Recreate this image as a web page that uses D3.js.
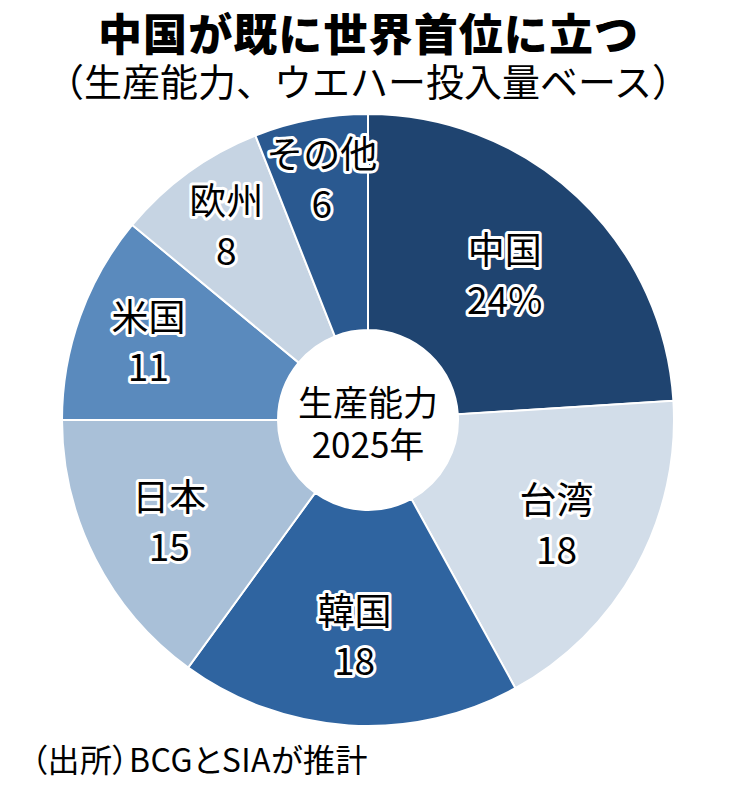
<!DOCTYPE html>
<html lang="ja">
<head>
<meta charset="utf-8">
<script src="https://cdn.jsdelivr.net/npm/d3@7"></script>
<style>
  body { margin: 0; background: #fff; }
  svg { display: block; font-family: "Noto Sans CJK JP", "Noto Sans", sans-serif; }
  .palt { font-feature-settings: "palt"; }
</style>
</head>
<body>
<svg id="chart" width="736" height="787"></svg>
<script>
// données du graphique
const regions = ["中国", "台湾", "韓国", "日本", "米国", "欧州", "その他"];
const shares = [24, 18, 18, 15, 11, 8, 6];
const valueLabels = ["24%", "18", "18", "15", "11", "8", "6"];
const colors = ["#1f4470", "#d2dde9", "#2f64a0", "#a9c0d8", "#5a8abd", "#c6d4e3", "#2a5990"];

const svg = d3.select("#chart");

// titre et sous-titre
svg.append("text")
  .attr("x", 368).attr("y", 51)
  .attr("text-anchor", "middle")
  .style("font-size", "44px").style("font-weight", 900)
  .attr("textLength", 540)
  .text("中国が既に世界首位に立つ");

svg.append("text")
  .attr("x", 368).attr("y", 96)
  .attr("text-anchor", "middle")
  .style("font-size", "38px")
  .text("（生産能力、ウエハー投入量ベース）");

// géométrie de la donut
const cx = 368, cy = 420;
const outerR = 306, innerR = 90;

const pie = d3.pie().sort(null).value(d => d);
const arcs = pie(shares);

const arc = d3.arc().innerRadius(innerR).outerRadius(outerR);

const g = svg.append("g").attr("transform", `translate(${cx},${cy})`);

g.selectAll("path.slice")
  .data(arcs)
  .enter()
  .append("path")
  .attr("class", "slice")
  .attr("d", arc)
  .attr("fill", (d, i) => colors[i])
  .attr("stroke", "#fff")
  .attr("stroke-width", 2);

// étiquettes : les petites parts sont placées plus loin du centre
const labelArc = d => {
  const r = 262 - 2.6 * d.data;
  return d3.arc().innerRadius(r).outerRadius(r).centroid(d);
};

const labels = g.selectAll("g.label")
  .data(arcs)
  .enter()
  .append("g")
  .attr("class", "label")
  .attr("transform", d => `translate(${labelArc(d)})`);

labels.append("text")
  .attr("text-anchor", "middle")
  .attr("y", -10)
  .style("font-size", "37px")
  .style("paint-order", "stroke")
  .attr("stroke", "#fff").attr("stroke-width", 6).attr("stroke-linejoin", "round")
  .text((d, i) => regions[i]);

labels.append("text")
  .attr("text-anchor", "middle")
  .attr("y", 40)
  .style("font-size", "37px")
  .style("paint-order", "stroke")
  .attr("stroke", "#fff").attr("stroke-width", 6).attr("stroke-linejoin", "round")
  .text((d, i) => valueLabels[i]);

// texte central
g.append("text")
  .attr("text-anchor", "middle")
  .attr("y", -4)
  .style("font-size", "35px")
  .text("生産能力");

g.append("text")
  .attr("text-anchor", "middle")
  .attr("y", 38)
  .style("font-size", "35px")
  .text("2025年");

// source
svg.append("text")
  .attr("class", "palt")
  .attr("x", 31).attr("y", 772)
  .style("font-size", "32px")
  .style("letter-spacing", "0.5px")
  .text("（出所）BCGとSIAが推計");
</script>
</body>
</html>
